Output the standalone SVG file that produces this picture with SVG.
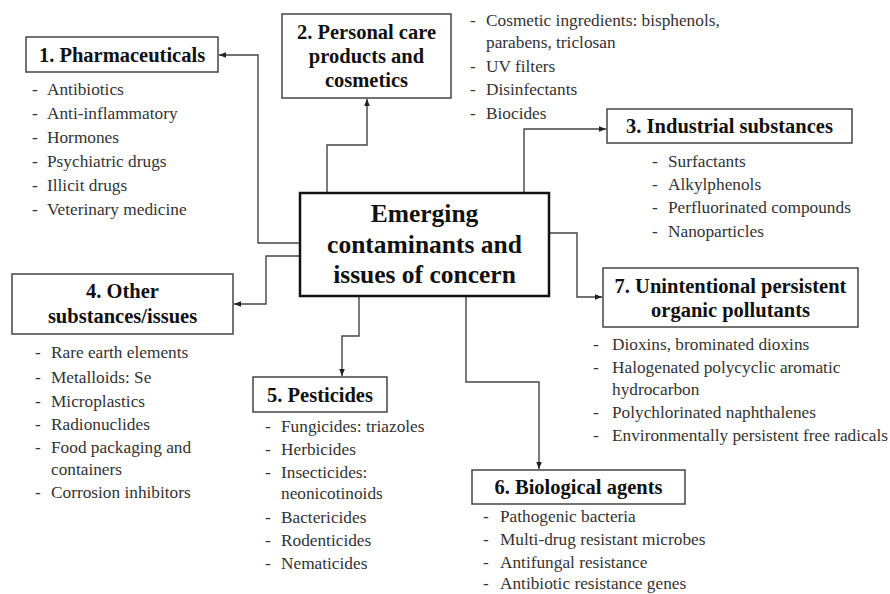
<svg xmlns="http://www.w3.org/2000/svg" width="890" height="594" viewBox="0 0 890 594">
<style>
.box{fill:#fff;stroke:#444;stroke-width:1.5}
.main{fill:#fff;stroke:#111;stroke-width:2.5}
text{font-family:'Liberation Serif','Times New Roman',Times,'DejaVu Serif',serif}
.t{font-weight:bold;font-size:20.5px;fill:#111;text-anchor:middle}
.c{font-weight:bold;font-size:25.5px;fill:#111;text-anchor:middle}
.l{font-size:17.3px;fill:#333}
.con{fill:none;stroke:#444;stroke-width:1.4;marker-end:url(#ah)}
</style>
<defs>
<marker id="ah" viewBox="0 0 10 10" refX="10" refY="5" markerWidth="7" markerHeight="7" markerUnits="userSpaceOnUse" orient="auto">
<path d="M0,1 L10,5 L0,9 z" fill="#222"/>
</marker>
</defs>
<rect width="890" height="594" fill="#fff"/>
<g id="connectors">
<polyline class="con" points="300,243 258,243 258,55 219,55"/>
<polyline class="con" points="327,193 327,145 367,145 367,99"/>
<polyline class="con" points="524,193 524,129 606,129"/>
<polyline class="con" points="549,233 577,233 577,297 602,297"/>
<polyline class="con" points="300,256 266,256 266,304 234,304"/>
<polyline class="con" points="359,296 359,336 342,336 342,376"/>
<polyline class="con" points="466,296 466,382 539,382 539,469"/>
</g>
<g id="center" font-family="Liberation Serif, serif">
<rect class="main" x="300" y="193" width="249" height="103"/>
<text class="c" x="424.5" y="222">Emerging</text>
<text class="c" x="424.5" y="253">contaminants and</text>
<text class="c" x="424.5" y="283">issues of concern</text>
</g>
<g id="n1" font-family="Liberation Serif, serif">
<rect class="box" x="26" y="37" width="192" height="35"/>
<text class="t" x="122" y="62">1. Pharmaceuticals</text>
<g class="l">
<text class="l" x="32" y="95">-</text><text class="l" x="47" y="95">Antibiotics</text>
<text class="l" x="32" y="119">-</text><text class="l" x="47" y="119">Anti-inflammatory</text>
<text class="l" x="32" y="143">-</text><text class="l" x="47" y="143">Hormones</text>
<text class="l" x="32" y="167">-</text><text class="l" x="47" y="167">Psychiatric drugs</text>
<text class="l" x="32" y="191">-</text><text class="l" x="47" y="191">Illicit drugs</text>
<text class="l" x="32" y="215">-</text><text class="l" x="47" y="215">Veterinary medicine</text>
</g>
</g>
<g id="n2">
<rect class="box" x="282" y="14" width="169" height="84"/>
<text class="t" x="366.5" y="39">2. Personal care</text>
<text class="t" x="366.5" y="63">products and</text>
<text class="t" x="366.5" y="87">cosmetics</text>
<g class="l">
<text class="l" x="470" y="26">-</text><text class="l" x="486" y="26">Cosmetic ingredients: bisphenols,</text>
<text class="l" x="486" y="48">parabens, triclosan</text>
<text class="l" x="470" y="72">-</text><text class="l" x="486" y="72">UV filters</text>
<text class="l" x="470" y="95">-</text><text class="l" x="486" y="95">Disinfectants</text>
<text class="l" x="470" y="119">-</text><text class="l" x="486" y="119">Biocides</text>
</g>
</g>
<g id="n3">
<rect class="box" x="607" y="109" width="245" height="34"/>
<text class="t" x="729.5" y="133">3. Industrial substances</text>
<g class="l">
<text class="l" x="652" y="167">-</text><text class="l" x="668" y="167">Surfactants</text>
<text class="l" x="652" y="190">-</text><text class="l" x="668" y="190">Alkylphenols</text>
<text class="l" x="652" y="213">-</text><text class="l" x="668" y="213">Perfluorinated compounds</text>
<text class="l" x="652" y="237">-</text><text class="l" x="668" y="237">Nanoparticles</text>
</g>
</g>
<g id="n4">
<rect class="box" x="12" y="274" width="221" height="60"/>
<text class="t" x="122.5" y="298">4. Other</text>
<text class="t" x="122.5" y="323">substances/issues</text>
<g class="l">
<text class="l" x="35" y="358">-</text><text class="l" x="51" y="358">Rare earth elements</text>
<text class="l" x="35" y="383">-</text><text class="l" x="51" y="383">Metalloids: Se</text>
<text class="l" x="35" y="407">-</text><text class="l" x="51" y="407">Microplastics</text>
<text class="l" x="35" y="430">-</text><text class="l" x="51" y="430">Radionuclides</text>
<text class="l" x="35" y="453">-</text><text class="l" x="51" y="453">Food packaging and</text>
<text class="l" x="51" y="475">containers</text>
<text class="l" x="35" y="498">-</text><text class="l" x="51" y="498">Corrosion inhibitors</text>
</g>
</g>
<g id="n5">
<rect class="box" x="253" y="377" width="134" height="35"/>
<text class="t" x="320" y="402">5. Pesticides</text>
<g class="l">
<text class="l" x="265" y="432">-</text><text class="l" x="281" y="432">Fungicides: triazoles</text>
<text class="l" x="265" y="455">-</text><text class="l" x="281" y="455">Herbicides</text>
<text class="l" x="265" y="478">-</text><text class="l" x="281" y="478">Insecticides:</text>
<text class="l" x="281" y="499">neonicotinoids</text>
<text class="l" x="265" y="523">-</text><text class="l" x="281" y="523">Bactericides</text>
<text class="l" x="265" y="546">-</text><text class="l" x="281" y="546">Rodenticides</text>
<text class="l" x="265" y="569">-</text><text class="l" x="281" y="569">Nematicides</text>
</g>
</g>
<g id="n6">
<rect class="box" x="472" y="470" width="213" height="34"/>
<text class="t" x="578.5" y="494">6. Biological agents</text>
<g class="l">
<text class="l" x="483" y="522">-</text><text class="l" x="500" y="522">Pathogenic bacteria</text>
<text class="l" x="483" y="545">-</text><text class="l" x="500" y="545">Multi-drug resistant microbes</text>
<text class="l" x="483" y="568">-</text><text class="l" x="500" y="568">Antifungal resistance</text>
<text class="l" x="483" y="589">-</text><text class="l" x="500" y="589">Antibiotic resistance genes</text>
</g>
</g>
<g id="n7">
<rect class="box" x="603" y="268" width="255" height="59"/>
<text class="t" x="730.5" y="293">7. Unintentional persistent</text>
<text class="t" x="730.5" y="317">organic pollutants</text>
<g class="l">
<text class="l" x="593" y="350">-</text><text class="l" x="612" y="350">Dioxins, brominated dioxins</text>
<text class="l" x="593" y="373">-</text><text class="l" x="612" y="373">Halogenated polycyclic aromatic</text>
<text class="l" x="612" y="395">hydrocarbon</text>
<text class="l" x="593" y="418">-</text><text class="l" x="612" y="418">Polychlorinated naphthalenes</text>
<text class="l" x="593" y="441">-</text><text class="l" x="612" y="441">Environmentally persistent free radicals</text>
</g>
</g>
</svg>
